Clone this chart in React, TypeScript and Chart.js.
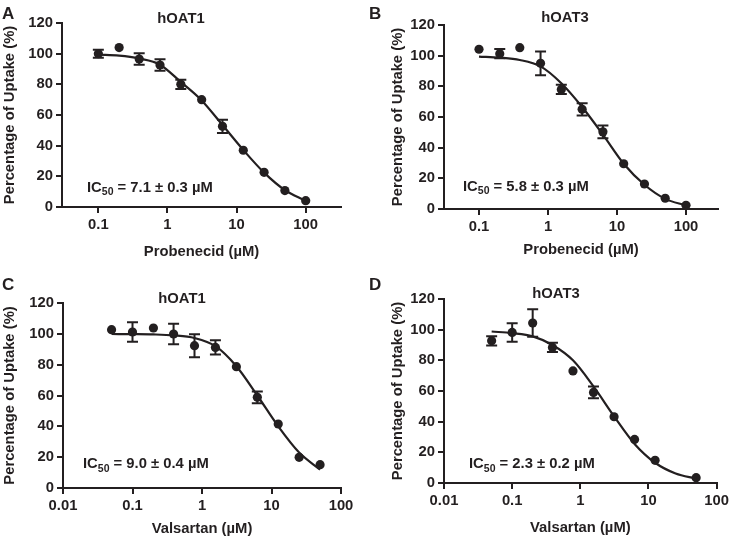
import React, { useEffect, useRef } from 'react';
import { Chart, registerables } from 'chart.js';
Chart.register(...registerables);

const FONT = "'Liberation Sans', Arial, Helvetica, sans-serif";
const INK = '#231f20';

// ---------- Panel A: hOAT1, Probenecid ----------
const concA = [0.1, 0.2, 0.39, 0.78, 1.56, 3.125, 6.25, 12.5, 25, 50, 100];
const uptakeA = [100, 104, 96.5, 92.6, 80, 70, 52.6, 37, 22.6, 10.7, 4.1];
const errA = [2.6, 0, 3.8, 3.8, 3, 0, 4.3, 0, 0, 0, 0];
const fitXA = [0.1, 0.2, 0.39, 0.78, 1.56, 3.125, 6.25, 12.5, 25, 50, 100];
const fitYA = [99.3, 98.7, 96.8, 92.8, 81.5, 69.5, 53.5, 37.2, 22.4, 11, 4];

// ---------- Panel B: hOAT3, Probenecid ----------
const concB = [0.1, 0.2, 0.39, 0.78, 1.56, 3.125, 6.25, 12.5, 25, 50, 100];
const uptakeB = [104.2, 101.3, 105.2, 95, 78, 65, 50.3, 29.5, 16.3, 7, 2.4];
const errB = [0, 3, 0, 7.7, 3, 4, 4.2, 0, 0, 0, 0];
const fitXB = [0.1, 0.2, 0.39, 0.78, 1.56, 3.125, 6.25, 12.5, 25, 50, 100];
const fitYB = [99.4, 98.7, 97.2, 93, 82, 66.5, 48.5, 29.5, 15.8, 6.6, 2.3];

// ---------- Panel C: hOAT1, Valsartan ----------
const concC = [0.05, 0.1, 0.2, 0.39, 0.78, 1.56, 3.125, 6.25, 12.5, 25, 50];
const uptakeC = [102.7, 101.2, 103.8, 99.9, 92.3, 91.2, 78.7, 58.8, 41.5, 19.9, 15.1];
const errC = [0, 6.3, 0, 6.7, 7.5, 4.6, 0, 3.8, 0, 0, 0];
const fitXC = [0.05, 0.1, 0.2, 0.39, 0.78, 1.56, 3.125, 6.25, 12.5, 25, 50];
const fitYC = [99.9, 99.8, 99.6, 99, 97.3, 92, 79, 60, 40, 23, 11.9];

// ---------- Panel D: hOAT3, Valsartan ----------
const concD = [0.05, 0.1, 0.2, 0.39, 0.78, 1.56, 3.125, 6.25, 12.5, 50];
const uptakeD = [92.7, 98.2, 104.3, 88.4, 73.1, 59.1, 43.2, 28.4, 14.8, 3.5];
const errD = [3, 6, 9, 3, 0, 3.8, 0, 0, 0, 0];
const fitXD = [0.05, 0.1, 0.2, 0.39, 0.78, 1.56, 3.125, 6.25, 12.5, 25, 50];
const fitYD = [98.8, 97.7, 95.6, 90, 80, 63, 43.5, 25.5, 13.2, 6.2, 2.9];

// ---------- Axis ticks ----------
const tickValsProb = [0.1, 1, 10, 100];
const tickLabelsProb = ['0.1', '1', '10', '100'];
const tickValsVals = [0.01, 0.1, 1, 10, 100];
const tickLabelsVals = ['0.01', '0.1', '1', '10', '100'];
const yTicksMax = 120;
const yStep = 20;

const yTitle = 'Percentage of Uptake (%)';

type PanelDef = {
  left: number; top: number; w: number; h: number;
  areaL: number; areaR: number; areaT: number; areaB: number;
  xmin: number; xmax: number;
  tickVals: number[]; tickLabels: string[];
  conc: number[]; uptake: number[]; err: number[];
  fitX: number[]; fitY: number[];
  letter: string; letterX: number; letterY: number;
  title: string; titleX: number; titleY: number;
  ic50: string; icX: number; icY: number;
  xTitle: string; xTitleCenter: number; yTitleCenter: number;
};

const panels: PanelDef[] = [
  {
    left: 0, top: 0, w: 366, h: 270,
    areaL: 62, areaR: 341, areaT: 23, areaB: 207,
    xmin: 0.0298, xmax: 324,
    tickVals: tickValsProb, tickLabels: tickLabelsProb,
    conc: concA, uptake: uptakeA, err: errA, fitX: fitXA, fitY: fitYA,
    letter: 'A', letterX: 2, letterY: 18.5,
    title: 'hOAT1', titleX: 181, titleY: 23,
    ic50: ' = 7.1 ± 0.3 µM', icX: 87, icY: 191.5,
    xTitle: 'Probenecid (µM)', xTitleCenter: 251.5, yTitleCenter: 10,
  },
  {
    left: 366, top: 0, w: 366, h: 270,
    areaL: 78, areaR: 352, areaT: 25, areaB: 209,
    xmin: 0.0311, xmax: 291,
    tickVals: tickValsProb, tickLabels: tickLabelsProb,
    conc: concB, uptake: uptakeB, err: errB, fitX: fitXB, fitY: fitYB,
    letter: 'B', letterX: 3, letterY: 18.5,
    title: 'hOAT3', titleX: 199, titleY: 21.7,
    ic50: ' = 5.8 ± 0.3 µM', icX: 97, icY: 190.7,
    xTitle: 'Probenecid (µM)', xTitleCenter: 249.5, yTitleCenter: 32,
  },
  {
    left: 0, top: 270, w: 366, h: 269,
    areaL: 63, areaR: 341, areaT: 33, areaB: 218,
    xmin: 0.01, xmax: 100,
    tickVals: tickValsVals, tickLabels: tickLabelsVals,
    conc: concC, uptake: uptakeC, err: errC, fitX: fitXC, fitY: fitYC,
    letter: 'C', letterX: 2, letterY: 19.5,
    title: 'hOAT1', titleX: 182, titleY: 33.3,
    ic50: ' = 9.0 ± 0.4 µM', icX: 83, icY: 198.3,
    xTitle: 'Valsartan (µM)', xTitleCenter: 259, yTitleCenter: 10,
  },
  {
    left: 366, top: 270, w: 366, h: 269,
    areaL: 78, areaR: 353, areaT: 29, areaB: 213,
    xmin: 0.01, xmax: 100,
    tickVals: tickValsVals, tickLabels: tickLabelsVals,
    conc: concD, uptake: uptakeD, err: errD, fitX: fitXD, fitY: fitYD,
    letter: 'D', letterX: 3, letterY: 19.5,
    title: 'hOAT3', titleX: 190, titleY: 28.3,
    ic50: ' = 2.3 ± 0.2 µM', icX: 103, icY: 198.3,
    xTitle: 'Valsartan (µM)', xTitleCenter: 258, yTitleCenter: 32,
  },
];

const FS = 14.8;
const LH = 1.2;

function makeConfig(p: PanelDef): any {
  const errorBars = {
    id: 'errorBars',
    afterDatasetsDraw(chart: any) {
      const { ctx, scales } = chart;
      const xs = scales.x, ys = scales.y;
      ctx.save();
      ctx.strokeStyle = INK;
      ctx.lineWidth = 2;
      p.conc.forEach((c, i) => {
        const e = p.err[i];
        if (!e) return;
        const px = xs.getPixelForValue(c);
        const y1 = ys.getPixelForValue(p.uptake[i] + e);
        const y2 = ys.getPixelForValue(p.uptake[i] - e);
        ctx.beginPath();
        ctx.moveTo(px, y1); ctx.lineTo(px, y2);
        ctx.moveTo(px - 5.5, y1); ctx.lineTo(px + 5.5, y1);
        ctx.moveTo(px - 5.5, y2); ctx.lineTo(px + 5.5, y2);
        ctx.stroke();
      });
      ctx.restore();
    },
  };
  const texts = {
    id: 'panelTexts',
    afterDraw(chart: any) {
      const ctx = chart.ctx;
      ctx.save();
      ctx.fillStyle = INK;
      ctx.textBaseline = 'alphabetic';
      ctx.textAlign = 'left';
      ctx.font = `bold 17px ${FONT}`;
      ctx.fillText(p.letter, p.letterX, p.letterY);
      ctx.textAlign = 'center';
      ctx.font = `bold ${FS}px ${FONT}`;
      ctx.fillText(p.title, p.titleX, p.titleY);
      ctx.textAlign = 'left';
      let x = p.icX;
      ctx.font = `bold ${FS}px ${FONT}`;
      ctx.fillText('IC', x, p.icY);
      x += ctx.measureText('IC').width;
      ctx.font = `bold 10.5px ${FONT}`;
      ctx.fillText('50', x, p.icY + 3.5);
      x += ctx.measureText('50').width;
      ctx.font = `bold ${FS}px ${FONT}`;
      ctx.fillText(p.ic50, x, p.icY);
      ctx.restore();
    },
  };
  const font = { family: FONT, size: FS, weight: 'bold' as const, lineHeight: LH };
  const half = (FS * LH) / 2;
  return {
    type: 'scatter',
    data: {
      datasets: [
        {
          type: 'line',
          data: p.fitX.map((x, i) => ({ x, y: p.fitY[i] })),
          borderColor: INK,
          borderWidth: 2.2,
          pointRadius: 0,
          fill: false,
          cubicInterpolationMode: 'monotone',
          order: 2,
        },
        {
          type: 'scatter',
          data: p.conc.map((x, i) => ({ x, y: p.uptake[i] })),
          pointRadius: 4.6,
          backgroundColor: INK,
          borderColor: INK,
          borderWidth: 0,
          order: 1,
        },
      ],
    },
    options: {
      responsive: false,
      animation: false,
      devicePixelRatio: 1,
      layout: { padding: { left: 0, top: p.areaT, right: p.w - p.areaR, bottom: 0 } },
      plugins: { legend: { display: false }, tooltip: { enabled: false }, title: { display: false } },
      scales: {
        x: {
          type: 'logarithmic',
          position: 'bottom',
          min: p.xmin,
          max: p.xmax,
          bounds: 'data',
          afterFit: (s: any) => { s.height = p.h - p.areaB; },
          afterBuildTicks: (s: any) => { s.ticks = p.tickVals.map((v) => ({ value: v })); },
          ticks: {
            callback: (v: any) => {
              const k = p.tickVals.findIndex((t) => Math.abs(t - Number(v)) < t * 1e-6);
              return k >= 0 ? p.tickLabels[k] : '';
            },
            color: INK, font, padding: 3, maxRotation: 0, autoSkip: false,
          },
          grid: { display: true, drawOnChartArea: false, drawTicks: true, tickLength: 6, color: INK, lineWidth: 2 },
          border: { display: true, color: INK, width: 2 },
          title: {
            display: true, text: p.xTitle, color: INK, font,
            padding: { top: 0, bottom: p.h - p.xTitleCenter - half },
          },
        },
        y: {
          type: 'linear',
          min: 0,
          max: yTicksMax,
          afterFit: (s: any) => { s.width = p.areaL; },
          ticks: { stepSize: yStep, color: INK, font, padding: 3 },
          grid: { display: true, drawOnChartArea: false, drawTicks: true, tickLength: 6, color: INK, lineWidth: 2 },
          border: { display: true, color: INK, width: 2 },
          title: {
            display: true, text: yTitle, color: INK, font,
            padding: { top: p.yTitleCenter - half, bottom: 0 },
          },
        },
      },
    },
    plugins: [errorBars, texts],
  };
}

function Panel({ p }: { p: PanelDef }) {
  const ref = useRef<HTMLCanvasElement>(null);
  useEffect(() => {
    if (!ref.current) return;
    const chart = new Chart(ref.current, makeConfig(p));
    return () => chart.destroy();
  }, [p]);
  return (
    <canvas
      ref={ref}
      width={p.w}
      height={p.h}
      style={{ position: 'absolute', left: p.left, top: p.top, width: p.w, height: p.h }}
    />
  );
}

export default function App() {
  return (
    <div style={{ position: 'absolute', left: 0, top: 0, width: 732, height: 539, background: '#fff' }}>
      {panels.map((p) => (
        <Panel key={p.letter} p={p} />
      ))}
    </div>
  );
}
